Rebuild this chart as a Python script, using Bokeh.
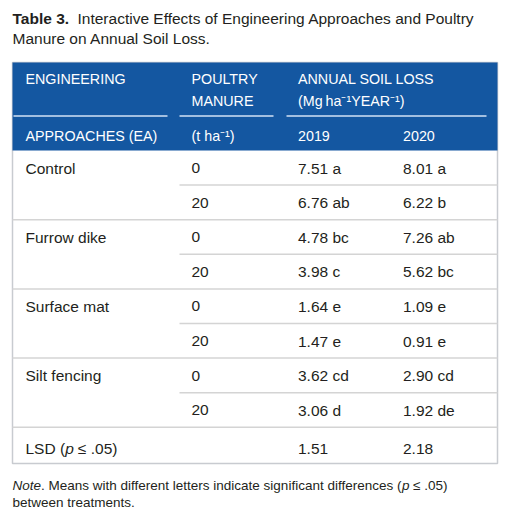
from bokeh.plotting import figure
from bokeh.models import Range1d
from bokeh.core.properties import value
from bokeh.embed import file_html
from bokeh.resources import INLINE

# ---------------- data ----------------
title_bold = "Table 3."
title_line1 = "Interactive Effects of Engineering Approaches and Poultry"
title_line2 = "Manure on Annual Soil Loss."
header_top = ["ENGINEERING", "POULTRY", "ANNUAL SOIL LOSS"]
header_mid = ["", "MANURE", "(Mg\u2009ha\u207b\u00b9YEAR\u207b\u00b9)"]
header_bot = ["APPROACHES (EA)", "(t ha\u207b\u00b9)", "2019", "2020"]
approaches = ["Control", "Furrow dike", "Surface mat", "Silt fencing"]
manure_rates = ["0", "20"]
loss_2019 = [7.51, 6.76, 4.78, 3.98, 1.64, 1.47, 3.62, 3.06]
letters_2019 = ["a", "ab", "bc", "c", "e", "e", "cd", "d"]
loss_2020 = [8.01, 6.22, 7.26, 5.62, 1.09, 0.91, 2.90, 1.92]
letters_2020 = ["a", "b", "ab", "bc", "e", "e", "cd", "de"]
lsd_label = ["LSD (", "p", "\u2264", ".05)"]
lsd_values = [1.51, 2.18]
note_parts = ["Note", ". Means with different letters indicate significant differences (", "p", "\u2264", ".05)"]
note_line2 = "between treatments."

# ---------------- layout ----------------
FONT = "Liberation Sans"
TXT = "#231f20"
BLUE = "#1457a1"
L, R = 12, 497
TOP, HEAD_BOT, BOT = 62, 150, 463
RH = 34.6
col_x = [25, 191, 297.5, 402.5]

p = figure(width=506, height=514, x_range=Range1d(0, 506), y_range=Range1d(514, 0),
           output_backend="svg", toolbar_location=None,
           x_axis_location=None, y_axis_location=None, min_border=0)
p.grid.visible = False
p.outline_line_color = None
p.background_fill_color = "white"
p.border_fill_color = "white"

def txt(xs, ys, texts, size, color=TXT, style="normal"):
    p.text(x=xs, y=ys, text=texts, text_font=value(FONT), text_font_size=size,
           text_color=color, text_font_style=style, text_baseline="middle",
           text_align="left")

# title (y = cap centre)
txt([12], [18], [title_bold], "15.5px", style="bold")
txt([77], [18], [title_line1], "15.5px")
txt([12], [37.8], [title_line2], "15.5px")

# table border
p.quad(left=[L], right=[R], top=[TOP], bottom=[BOT], fill_color=None,
       line_color="#c8cbd0", line_width=1.5)
# header block
p.quad(left=[L], right=[R], top=[TOP], bottom=[HEAD_BOT], fill_color=BLUE,
       line_color=None)
# header separators
p.segment(x0=[13, 179, 286], x1=[167, 273, 486], y0=[115.5] * 3, y1=[115.5] * 3,
          line_color="#a3bfe0", line_width=2)

# header text
txt([col_x[0], col_x[1], col_x[2]], [78] * 3, header_top, "14.3px", color="white")
txt([col_x[1], col_x[2]], [100] * 2, header_mid[1:], "14.3px", color="white")
txt(col_x, [135] * 4, header_bot, "14.3px", color="white")

# row lines
n_rows = len(loss_2019)
ly, lx0 = [], []
for i in range(1, n_rows + 1):
    ly.append(HEAD_BOT + i * RH)
    lx0.append(L if i % 2 == 0 else 179)
p.segment(x0=lx0, x1=[R] * len(ly), y0=ly, y1=ly, line_color="#d4d4d4", line_width=1.5)

# body text
mid = [HEAD_BOT + i * RH + 17.5 for i in range(n_rows)]
txt([col_x[0]] * len(approaches), [mid[2 * k] for k in range(len(approaches))], approaches, "15.5px")
txt([col_x[1]] * n_rows, mid, [manure_rates[i % 2] for i in range(n_rows)], "15.5px")
txt([col_x[2]] * n_rows, mid, [f"{v:.2f} {l}" for v, l in zip(loss_2019, letters_2019)], "15.5px")
txt([col_x[3]] * n_rows, mid, [f"{v:.2f} {l}" for v, l in zip(loss_2020, letters_2020)], "15.5px")

# LSD row
lsd_y = 448
txt([col_x[0]], [lsd_y], [lsd_label[0]], "15.5px")
txt([64.8], [lsd_y], [lsd_label[1]], "15.5px", style="italic")
txt([77.3], [lsd_y], [lsd_label[2]], "15.5px")
txt([90.3], [lsd_y], [lsd_label[3]], "15.5px")
txt([col_x[2], col_x[3]], [lsd_y] * 2, [f"{v:.2f}" for v in lsd_values], "15.5px")

# note
ny = 484.5
txt([12], [ny], [note_parts[0]], "13.5px", style="italic")
txt([40.5], [ny], [note_parts[1]], "13.5px")
txt([401.5], [ny], [note_parts[2]], "13.5px", style="italic")
txt([412.5], [ny], [note_parts[3]], "13.5px")
txt([423.8], [ny], [note_parts[4]], "13.5px")
txt([12], [501.5], [note_line2], "13.5px")

open("out.html", "w").write(file_html(p, INLINE))
